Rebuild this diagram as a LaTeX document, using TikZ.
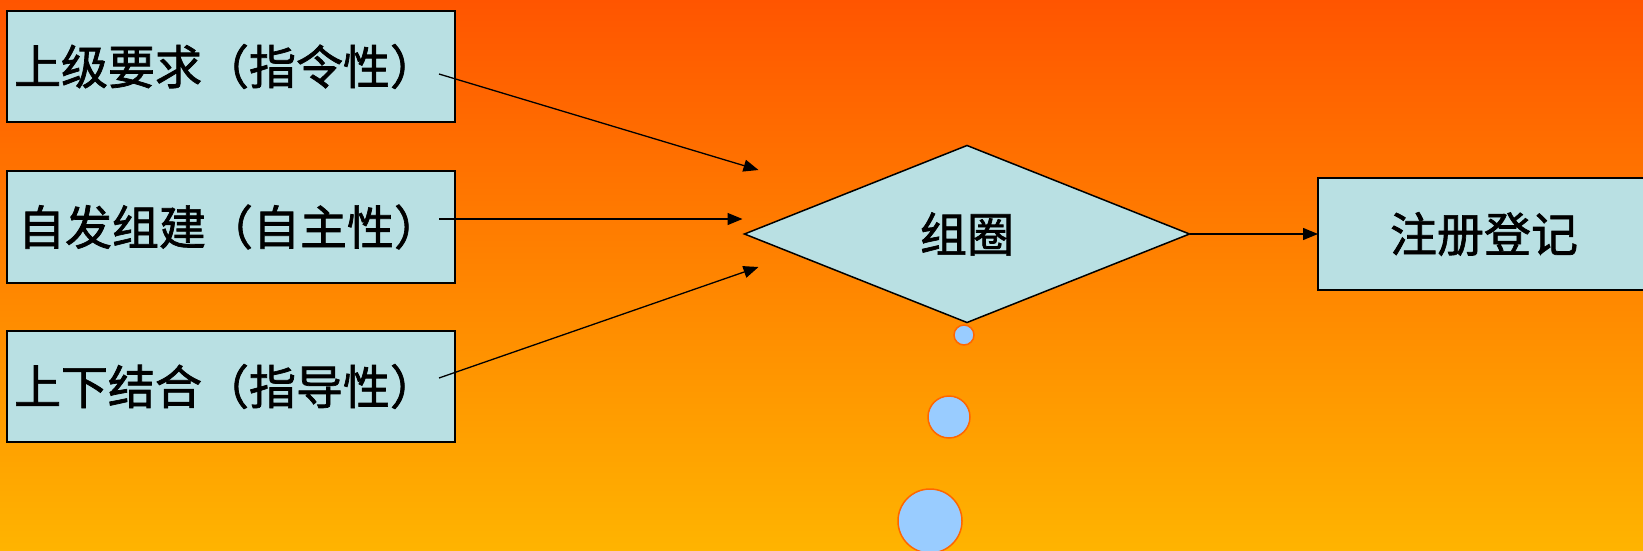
\documentclass[tikz,border=0pt]{standalone}
\usepackage{fontspec}
\newfontfamily\cjk[FakeBold=1.5]{Noto Sans CJK SC}
\usetikzlibrary{shapes.geometric,arrows.meta,calc}
\definecolor{boxfill}{RGB}{185,224,227}
\definecolor{bgtop}{RGB}{255,85,0}
\definecolor{bgbot}{RGB}{255,180,0}
\definecolor{dotfill}{RGB}{153,204,255}
\definecolor{dotline}{RGB}{255,102,0}
\newcommand\lefttext[2]{\makebox[#1][l]{\raisebox{-3pt}{#2}}}
\tikzset{
  cjktext/.style={font=\cjk\fontsize{47}{54}\selectfont},
  box/.style={cjktext, rectangle, draw=black, line width=1.5pt, fill=boxfill,
    inner ysep=0pt, outer sep=0pt, anchor=north west},
  decision/.style={cjktext, diamond, draw=black, line width=1.5pt, fill=boxfill,
    inner sep=0pt, outer sep=0pt, minimum width=445pt, minimum height=177pt},
  dot/.style={circle, draw=dotline, line width=1.5pt, fill=dotfill, inner sep=0pt},
  arr/.style={draw=black, line width=1.3pt, -{Triangle[length=15pt,width=12pt]}}
}
\begin{document}
\begin{tikzpicture}[x=1pt,y=-1pt]
\useasboundingbox (0,0) rectangle (1643,551);
\clip (0,0) rectangle (1643,551);
\shade[top color=bgtop, bottom color=bgbot] (0,0) rectangle (1643,551);

\node[box, inner xsep=7pt, minimum height=111pt] (b1) at (7,11) {\lefttext{434pt}{上级要求（指令性）}};
\node[box, inner xsep=11pt, minimum height=112pt] (b2) at (7,171) {\lefttext{426pt}{自发组建（自主性）}};
\node[box, inner xsep=7pt, minimum height=111pt] (b3) at (7,331) {\lefttext{434pt}{上下结合（指导性）}};
\node[box, inner xsep=72pt, minimum height=112pt] (b4) at (1318,178) {\lefttext{198pt}{注册登记}};

\node[decision] (d) at (967,234) {\raisebox{-4pt}{组圈}};

\node[dot, minimum size=20pt] (c1) at (964,335) {};
\node[dot, minimum size=42pt] (c2) at (949,417) {};
\node[dot, minimum size=64pt] (c3) at (930,521) {};

\draw[arr] ($(b1.east)+(-16,7.5)$) -- ($(d.west)+(14,-64)$);
\draw[arr] ($(b2.east)+(-16,-8)$) -- ($(d.west)+(-2,-15)$);
\draw[arr] ($(b3.east)+(-16,-8.5)$) -- ($(d.west)+(14,33)$);
\draw[arr] (d.east) -- (b4.west);
\end{tikzpicture}
\end{document}
